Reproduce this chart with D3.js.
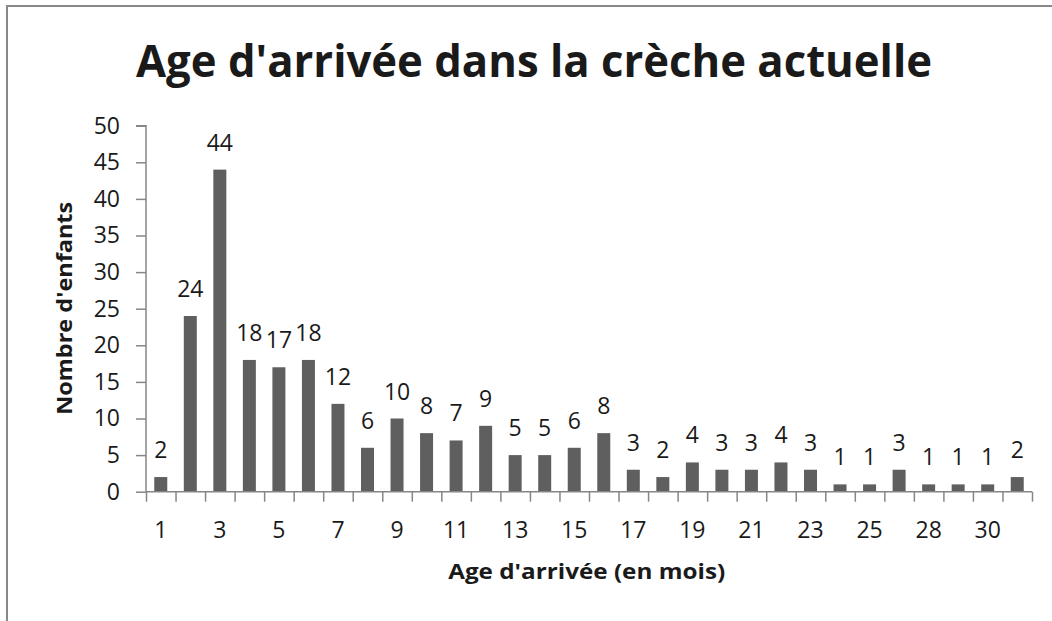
<!DOCTYPE html>
<html>
<head>
<meta charset="utf-8">
<script src="https://cdn.jsdelivr.net/npm/d3@7"></script>
<style>
  html, body { margin: 0; padding: 0; background: #fff; }
  svg { display: block; }
  text { font-family: "Open Sans", "Liberation Sans", sans-serif; fill: #1a1a1a; }
</style>
</head>
<body>
<svg id="chart" width="1052" height="621"></svg>
<script>
// ---- data ----
const categories = [1,2,3,4,5,6,7,8,9,10,11,12,13,14,15,16,17,18,19,20,21,22,23,24,25,26,28,29,30,36];
const values = [2,24,44,18,17,18,12,6,10,8,7,9,5,5,6,8,3,2,4,3,3,4,3,1,1,3,1,1,1,2];
const yTicks = [0,5,10,15,20,25,30,35,40,45,50];
const title = "Age d'arrivée dans la crèche actuelle";
const xTitle = "Age d'arrivée (en mois)";
const yTitle = "Nombre d'enfants";

const svg = d3.select("#chart");
const W = 1052, H = 621;
const m = { left: 146, right: 1032, top: 125.7, bottom: 491.7 };
const axisColor = "#868686";
const numSize = 23;

svg.append("rect").attr("width", W).attr("height", H).attr("fill", "#fff");
// chart frame (cropped at right / bottom)
svg.append("rect").attr("x", 7).attr("y", 6).attr("width", 3000).attr("height", 3000)
  .attr("fill", "none").attr("stroke", "#888").attr("stroke-width", 2);

const x = d3.scaleBand().domain(categories).range([m.left, m.right]).padding(0);
const xEdge = d3.scaleLinear().domain([0, categories.length]).range([m.left, m.right]);
const y = d3.scaleLinear().domain([0, 50]).range([m.bottom, m.top]);

// bars
const barFrac = 0.44;
svg.append("g").selectAll("rect").data(values).join("rect")
  .attr("x", (d, i) => x(categories[i]) + x.bandwidth() * (1 - barFrac) / 2)
  .attr("width", x.bandwidth() * barFrac)
  .attr("y", d => y(d))
  .attr("height", d => y(0) - y(d))
  .attr("fill", "#5f5f5f");

// y axis
const gy = svg.append("g").attr("transform", `translate(${m.left},0)`)
  .call(d3.axisLeft(y).tickValues(yTicks).tickSize(10).tickPadding(16));
gy.selectAll("path, line").attr("stroke", axisColor).attr("stroke-width", 1.5);
gy.select(".domain").attr("d", `M0,${m.bottom}V${m.top}h-10`);
gy.selectAll("text").attr("font-size", numSize).attr("font-family", "Open Sans").attr("fill", "#1a1a1a");

// x axis: tick marks at category boundaries
const gxt = svg.append("g").attr("transform", `translate(0,${m.bottom})`)
  .call(d3.axisBottom(xEdge).tickValues(d3.range(0, categories.length + 1)).tickSize(10).tickFormat(""));
gxt.selectAll("path, line").attr("stroke", axisColor).attr("stroke-width", 1.5);
gxt.select(".domain").attr("d", `M${m.left},0H${m.right}`);

// x axis labels: every other category
const gx = svg.append("g").attr("transform", `translate(0,${m.bottom})`)
  .call(d3.axisBottom(x).tickSize(0).tickPadding(30)
    .tickFormat((d, i) => (i % 2 === 0 ? d : "")));
gx.select(".domain").remove();
gx.selectAll("text").attr("font-size", numSize).attr("font-family", "Open Sans").attr("fill", "#1a1a1a");

// data labels
svg.append("g").selectAll("text").data(values).join("text")
  .attr("x", (d, i) => x(categories[i]) + x.bandwidth() / 2)
  .attr("y", d => y(d) - 19)
  .attr("text-anchor", "middle")
  .attr("font-size", numSize)
  .text(d => d);

function fit(sel, target) {
  const w = sel.node().getComputedTextLength();
  if (Math.abs(w - target) > 2) sel.attr("textLength", target).attr("lengthAdjust", "spacingAndGlyphs");
}

// title
const t = svg.append("text").attr("x", 534).attr("y", 76.7).attr("text-anchor", "middle")
  .attr("font-size", 44).attr("font-weight", "bold").attr("fill", "#000").text(title);
fit(t, 796);

// x title
const xt = svg.append("text").attr("x", 586.7).attr("y", 579.3).attr("text-anchor", "middle")
  .attr("font-size", 22).attr("font-weight", "bold").attr("fill", "#000").text(xTitle);
fit(xt, 277);

// y title
const yt = svg.append("text").attr("transform", "translate(71.5,308.3) rotate(-90)")
  .attr("text-anchor", "middle").attr("font-size", 22).attr("font-weight", "bold")
  .attr("fill", "#000").text(yTitle);
fit(yt, 213);
</script>
</body>
</html>
